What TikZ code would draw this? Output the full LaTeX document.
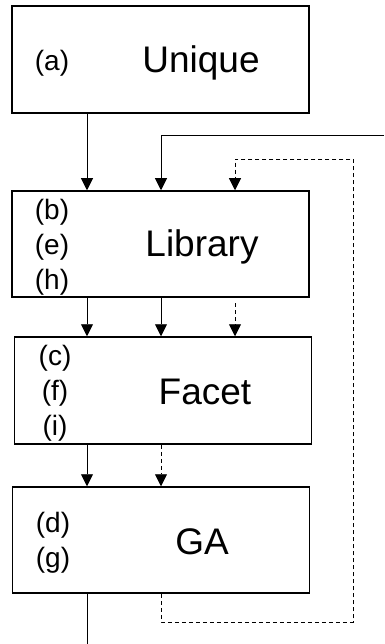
\documentclass[tikz,border=0pt]{standalone}
\usepackage{fontspec}
\setmainfont{Liberation Sans}
\usetikzlibrary{arrows.meta}
\begin{document}
\begin{tikzpicture}[x=1pt,y=-1pt,
  box/.style={draw,line width=1.5pt,minimum width=297pt,minimum height=106pt,inner sep=0pt},
  main/.style={font=\fontsize{37}{40}\selectfont,inner sep=0pt},
  lbl/.style={font=\fontsize{28}{30}\selectfont,inner sep=0pt},
  arr/.style={line width=0.9pt,-{Triangle[width=12pt,length=12pt]}},
  darr/.style={line width=0.8pt,dash pattern=on 4pt off 3pt,-{Triangle[width=12pt,length=12pt]}},
  dline/.style={line width=0.8pt,dash pattern=on 4pt off 3pt}]
\useasboundingbox (0,0) rectangle (384,644);
% boxes
\node[box,minimum height=107pt] (uni) at (160.5,59.5) {};
\node[box] (lib) at (160.5,244) {};
\node[box,minimum height=107pt] (fac) at (163,390.5) {};
\node[box] (ga) at (161,540) {};
% texts
\node[main] (tuni) at (201,63) {Unique};
\node[lbl] (la) at (52,63) {(a)};
\node[main] (tlib) at (202,247) {Library};
\node[lbl] (lb) at (52,212) {(b)};
\node[lbl] (le) at (52,247) {(e)};
\node[lbl] (lh) at (52,282) {(h)};
\node[main] (tfac) at (205,392) {Facet};
\node[lbl] (lc) at (55,358) {(c)};
\node[lbl] (lf) at (55,393) {(f)};
\node[lbl] (li) at (55,428) {(i)};
\node[main] (tga) at (202,542) {GA};
\node[lbl] (ld) at (53,525) {(d)};
\node[lbl] (lg) at (53,560) {(g)};
% columns
\coordinate (cA) at (87,0);
\coordinate (cB) at (161,0);
\coordinate (cC) at (235,0);
\coordinate (r1) at (384,135);
\coordinate (d1) at (353,622);
\coordinate (d2) at (353,159);
\coordinate (bot) at (87,644);
\coordinate (dstart) at (235,303);
% connectors
\draw[arr] (uni.south -| cA) -- (lib.north -| cA);
\draw[arr] (r1) -| (lib.north -| cB);
\draw[darr] (ga.south -| cB) |- (d1) -- (d2) -| (lib.north -| cC);
\draw[arr] (lib.south -| cA) -- (fac.north -| cA);
\draw[arr] (lib.south -| cB) -- (fac.north -| cB);
\draw[darr] (dstart) -- (fac.north -| cC);
\draw[arr] (fac.south -| cA) -- (ga.north -| cA);
\draw[darr] (fac.south -| cB) -- (ga.north -| cB);
\draw[line width=0.9pt] (ga.south -| cA) -- (bot);
\end{tikzpicture}
\end{document}
